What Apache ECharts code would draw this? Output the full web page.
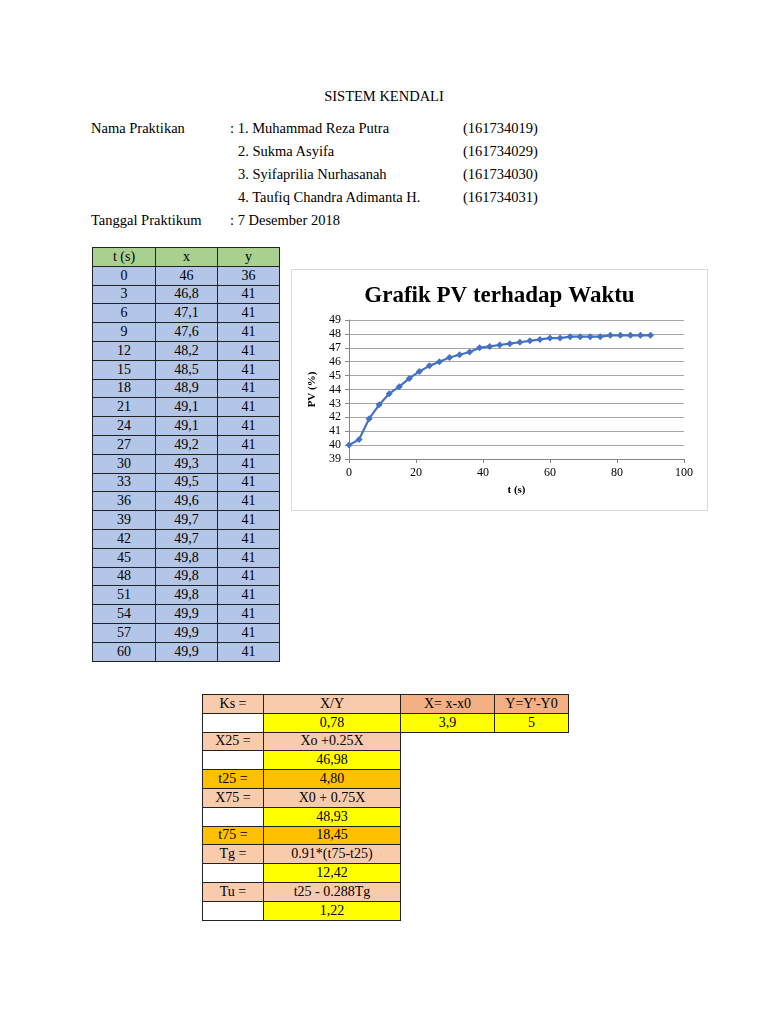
<!DOCTYPE html>
<html>
<head>
    <meta charset="UTF-8">
    <title>Sistem Kendali</title>
    <script src="https://cdn.jsdelivr.net/npm/echarts@6/dist/echarts.min.js"></script>
    <style>
        body { margin: 0; background: #fff; font-family: "Liberation Serif", "Times New Roman", serif; color: #000; }
        .page { position: relative; width: 768px; height: 1024px; overflow: hidden; }
        .txt { position: absolute; font-size: 14.5px; line-height: 16px; white-space: nowrap; }
        table { position: absolute; border-collapse: collapse; table-layout: fixed; }
        td { border: 1px solid #222; padding: 0; text-align: center; font-size: 14px; line-height: 16px; height: 17.8px; overflow: hidden; white-space: nowrap; }
        #pvChart { position: absolute; left: 291px; top: 269px; width: 417px; height: 242px; box-sizing: border-box; border: 1px solid #d9d9d9; }
    </style>
</head>
<body>
<div class="page">
    <div class="txt" style="left:0; width:768px; top:88px; text-align:center;">SISTEM KENDALI</div>
    <div class="txt" style="left:91px; top:120px;">Nama Praktikan</div>
    <div class="txt" style="left:230px; top:120px;">: 1. Muhammad Reza Putra</div>
    <div class="txt" style="left:238px; top:143px;">2. Sukma Asyifa</div>
    <div class="txt" style="left:238px; top:166px;">3. Syifaprilia Nurhasanah</div>
    <div class="txt" style="left:238px; top:189px;">4. Taufiq Chandra Adimanta H.</div>
    <div class="txt" style="left:463px; top:120px;">(161734019)</div>
    <div class="txt" style="left:463px; top:143px;">(161734029)</div>
    <div class="txt" style="left:463px; top:166px;">(161734030)</div>
    <div class="txt" style="left:463px; top:189px;">(161734031)</div>
    <div class="txt" style="left:91px; top:212px;">Tanggal Praktikum</div>
    <div class="txt" style="left:230px; top:212px;">: 7 Desember 2018</div>

    <table id="dataTable" style="left:92px; top:247px; width:187px;">
        <colgroup><col style="width:63px"><col style="width:62px"><col style="width:62px"></colgroup>
    </table>

    <div id="pvChart"></div>

    <table id="ksTable" style="left:202px; top:694px; width:366px;">
        <colgroup><col style="width:61px"><col style="width:137px"><col style="width:94px"><col style="width:74px"></colgroup>
    </table>
</div>

<script>
    // tabel pengukuran
    var tableHead = ['t (s)', 'x', 'y'];
    var tableT = [0, 3, 6, 9, 12, 15, 18, 21, 24, 27, 30, 33, 36, 39, 42, 45, 48, 51, 54, 57, 60];
    var tableX = ['46', '46,8', '47,1', '47,6', '48,2', '48,5', '48,9', '49,1', '49,1', '49,2', '49,3',
                  '49,5', '49,6', '49,7', '49,7', '49,8', '49,8', '49,8', '49,9', '49,9', '49,9'];
    var tableY = [36, 41, 41, 41, 41, 41, 41, 41, 41, 41, 41, 41, 41, 41, 41, 41, 41, 41, 41, 41, 41];

    // data grafik PV
    var timeSec = [0, 3, 6, 9, 12, 15, 18, 21, 24, 27, 30, 33, 36, 39, 42, 45, 48, 51, 54, 57, 60,
                   63, 66, 69, 72, 75, 78, 81, 84, 87, 90];
    var pvValues = [40.0, 40.4, 41.9, 42.9, 43.7, 44.2, 44.8, 45.3, 45.7, 46.0, 46.3, 46.5, 46.7, 47.0, 47.1,
                    47.2, 47.3, 47.4, 47.5, 47.6, 47.7, 47.7, 47.8, 47.8, 47.8, 47.8, 47.9, 47.9, 47.9, 47.9, 47.9];

    // tabel perhitungan
    var ksLabels = ['Ks =', '', 'X25 =', '', 't25 =', 'X75 =', '', 't75 =', 'Tg =', '', 'Tu =', ''];
    var ksValues = ['X/Y', '0,78', 'Xo +0.25X', '46,98', '4,80', 'X0 + 0.75X', '48,93', '18,45',
                    '0.91*(t75-t25)', '12,42', 't25 - 0.288Tg', '1,22'];
    var ksKinds = ['peach', 'yellow', 'peach', 'yellow', 'orange', 'peach', 'yellow', 'orange',
                   'peach', 'yellow', 'peach', 'yellow'];
    var ksExtraHead = ['X= x-x0', "Y=Y'-Y0"];
    var ksExtraVal = ['3,9', '5'];

    var fills = { peach: '#f8cbad', yellow: '#ffff00', orange: '#ffc000', dark: '#f4b084', blue: '#b4c6e7', green: '#a9d08e' };

    function cell(text, bg) {
        var td = document.createElement('td');
        td.textContent = text;
        td.style.background = bg;
        return td;
    }

    var dt = document.getElementById('dataTable');
    var tr = document.createElement('tr');
    tableHead.forEach(function (h) { tr.appendChild(cell(h, fills.green)); });
    dt.appendChild(tr);
    for (var i = 0; i < tableT.length; i++) {
        tr = document.createElement('tr');
        tr.appendChild(cell(tableT[i], fills.blue));
        tr.appendChild(cell(tableX[i], fills.blue));
        tr.appendChild(cell(tableY[i], fills.blue));
        dt.appendChild(tr);
    }

    var kt = document.getElementById('ksTable');
    for (var j = 0; j < ksLabels.length; j++) {
        tr = document.createElement('tr');
        var kind = ksKinds[j];
        var labelBg = kind === 'yellow' ? '#ffffff' : fills[kind];
        tr.appendChild(cell(ksLabels[j], labelBg));
        tr.appendChild(cell(ksValues[j], fills[kind]));
        if (j < 2) {
            var bg = j === 0 ? fills.dark : fills.yellow;
            var arr = j === 0 ? ksExtraHead : ksExtraVal;
            tr.appendChild(cell(arr[0], bg));
            tr.appendChild(cell(arr[1], bg));
        } else {
            var e1 = document.createElement('td'); e1.style.border = 'none';
            var e2 = document.createElement('td'); e2.style.border = 'none';
            tr.appendChild(e1); tr.appendChild(e2);
        }
        kt.appendChild(tr);
    }

    var chart = echarts.init(document.getElementById('pvChart'), null, {renderer: 'canvas'});
    var serif = '"Liberation Serif", "Times New Roman", serif';
    chart.setOption({
        animation: false,
        textStyle: { fontFamily: serif },
        title: {
            text: 'Grafik PV terhadap Waktu',
            left: 'center',
            top: 10,
            textStyle: { fontFamily: serif, fontSize: 23, fontWeight: 'bold', color: '#000' }
        },
        grid: { left: 57, right: 23, top: 50, bottom: 51 },
        xAxis: {
            type: 'value',
            min: 0, max: 100, interval: 20,
            name: 't (s)',
            nameLocation: 'middle',
            nameGap: 26,
            nameTextStyle: { fontFamily: serif, fontSize: 11, fontWeight: 'bold', color: '#000' },
            axisLine: { lineStyle: { color: '#868686', width: 1 } },
            axisTick: { show: true, length: 4, lineStyle: { color: '#868686' } },
            axisLabel: { fontFamily: serif, fontSize: 12, color: '#000', margin: 8 },
            splitLine: { show: false }
        },
        yAxis: {
            type: 'value',
            min: 39, max: 49, interval: 1,
            name: 'PV (%)',
            nameLocation: 'middle',
            nameRotate: 90,
            nameGap: 29,
            nameTextStyle: { fontFamily: serif, fontSize: 11, fontWeight: 'bold', color: '#000' },
            axisLine: { show: true, lineStyle: { color: '#868686', width: 1 } },
            axisTick: { show: true, length: 4, lineStyle: { color: '#868686' } },
            axisLabel: { fontFamily: serif, fontSize: 12, color: '#000', margin: 8 },
            splitLine: { lineStyle: { color: '#a6a6a6', width: 1 } }
        },
        series: [{
            type: 'line',
            data: timeSec.map(function (t, k) { return [t, pvValues[k]]; }),
            symbol: 'diamond',
            symbolSize: 7,
            lineStyle: { color: '#4472c4', width: 2.2 },
            itemStyle: { color: '#4472c4' }
        }]
    });
</script>
</body>
</html>
